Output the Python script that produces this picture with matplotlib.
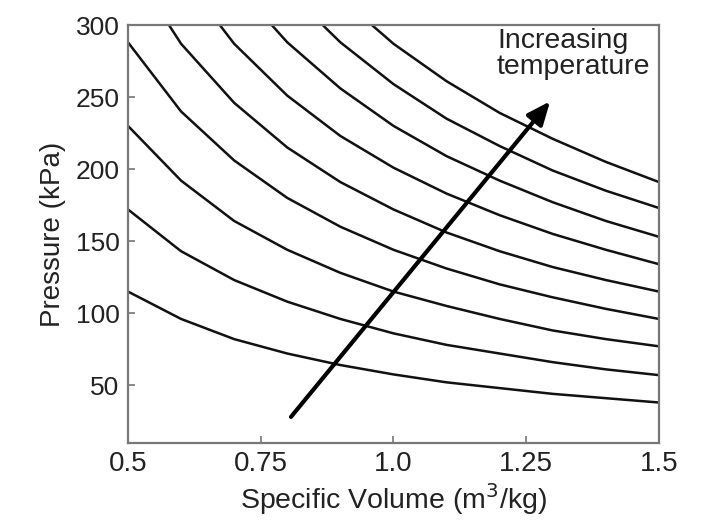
import matplotlib
matplotlib.use("Agg")
import matplotlib.pyplot as plt

plt.rcParams['font.family'] = ['Liberation Sans', 'DejaVu Sans']

# Specific volume sample points (m^3/kg)
volume = [0.5, 0.6, 0.7, 0.8, 0.9, 1.0, 1.1, 1.2, 1.3, 1.4, 1.5]

# Isotherm pressures (kPa), lowest to highest temperature
iso_1 = [115, 96, 82, 72, 64, 57.5, 52, 48, 44, 41, 38]
iso_2 = [172, 143, 123, 108, 96, 86, 78, 72, 66, 61, 57]
iso_3 = [230, 192, 164, 144, 128, 115, 105, 96, 88, 82, 77]
iso_4 = [288, 240, 206, 180, 160, 144, 131, 120, 111, 103, 96]
iso_5 = [344, 287, 246, 215, 191, 172, 156, 143, 132, 123, 115]
iso_6 = [402, 335, 287, 251, 223, 201, 183, 168, 155, 144, 134]
iso_7 = [460, 383, 329, 288, 256, 230, 209, 192, 177, 164, 153]
iso_8 = [518, 432, 370, 324, 288, 259, 235, 216, 199, 185, 173]
iso_9 = [574, 478, 410, 359, 319, 287, 261, 239, 221, 205, 191]
isotherms = [iso_1, iso_2, iso_3, iso_4, iso_5, iso_6, iso_7, iso_8, iso_9]

x_ticks = [0.5, 0.75, 1.0, 1.25, 1.5]
x_tick_labels = ["0.5", "0.75", "1.0", "1.25", "1.5"]
y_ticks = [50, 100, 150, 200, 250, 300]
y_tick_labels = ["50", "100", "150", "200", "250", "300"]

arrow_start = (0.807, 28)
arrow_end = (1.295, 247)
annotation = "Increasing\ntemperature"

fig = plt.figure(figsize=(7.07, 5.21), dpi=100)
ax = fig.add_axes([0.181, 0.150, 0.751, 0.802])

for p in isotherms:
    ax.plot(volume, p, color='#111111', lw=1.8, solid_joinstyle='round')

ax.set_xlim(0.5, 1.5)
ax.set_ylim(10, 300)
ax.set_xticks(x_ticks)
ax.set_xticklabels(x_tick_labels)
ax.set_yticks(y_ticks)
ax.set_yticklabels(y_tick_labels)
ax.tick_params(direction='in', length=5, width=1.2, color='#777777',
               labelcolor='#222222', pad=6)
ax.tick_params(axis='x', labelsize=20)
ax.tick_params(axis='y', labelsize=19)
for s in ax.spines.values():
    s.set_color('#777777')
    s.set_linewidth(1.6)

ax.set_xlabel("Specific Volume (m$^3$/kg)", fontsize=20.5, color='#222222', labelpad=3)
ax.set_ylabel("Pressure (kPa)", fontsize=20, color='#222222', labelpad=7)

ax.annotate("", xy=arrow_end, xytext=arrow_start,
            arrowprops=dict(arrowstyle='-|>,head_length=1.4,head_width=0.6',
                            color='black', lw=3, shrinkA=0, shrinkB=0))
ax.text(1.195, 298, annotation, fontsize=20.5, color='#222222',
        ha='left', va='top', linespacing=1.0)

fig.savefig("out.png", dpi=100)
